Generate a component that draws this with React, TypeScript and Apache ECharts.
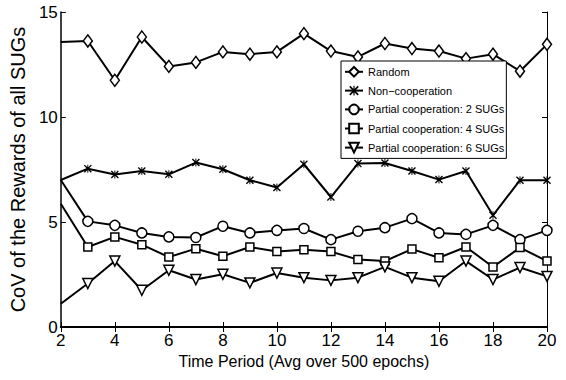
import React, { useEffect, useRef } from "react";
import * as echarts from "echarts";

const periods = [2, 3, 4, 5, 6, 7, 8, 9, 10, 11, 12, 13, 14, 15, 16, 17, 18, 19, 20];
const randomVals = [13.57, 13.62, 11.75, 13.81, 12.41, 12.6, 13.1, 12.99, 13.1, 13.97, 13.14, 12.86, 13.5, 13.26, 13.14, 12.78, 12.99, 12.18, 13.46];
const nonCoopVals = [7.0, 7.54, 7.26, 7.43, 7.27, 7.83, 7.51, 6.99, 6.64, 7.75, 6.19, 7.78, 7.81, 7.43, 7.02, 7.43, 5.32, 6.99, 6.99];
const coop2Vals = [7.0, 5.03, 4.84, 4.48, 4.29, 4.26, 4.8, 4.48, 4.6, 4.69, 4.16, 4.56, 4.73, 5.16, 4.48, 4.41, 4.84, 4.16, 4.6];
const coop4Vals = [5.87, 3.81, 4.29, 3.92, 3.33, 3.73, 3.37, 3.81, 3.6, 3.68, 3.59, 3.21, 3.14, 3.71, 3.3, 3.81, 2.86, 3.78, 3.14];
const coop6Vals = [1.11, 2.07, 3.14, 1.75, 2.7, 2.26, 2.51, 2.1, 2.57, 2.35, 2.22, 2.35, 2.86, 2.35, 2.18, 3.14, 2.26, 2.83, 2.41];
const seriesNames = [
  "Random",
  "Non\u2212cooperation",
  "Partial cooperation: 2 SUGs",
  "Partial cooperation: 4 SUGs",
  "Partial cooperation: 6 SUGs",
];
const xTicks = { min: 2, max: 20, interval: 2 };
const yTicks = { min: 0, max: 15, interval: 5 };

const SYM_DIAMOND = "path://M5,0 L10,7 L5,14 L0,7 Z";
const SYM_CROSS =
  "path://M0,1.2 L1.2,0 L10,8.8 L8.8,10 Z M8.8,0 L10,1.2 L1.2,10 L0,8.8 Z M4.4,0 L5.6,0 L5.6,10 L4.4,10 Z";
const SYM_CIRCLE = "circle";
const SYM_SQUARE = "path://M0,0 L10,0 L10,10 L0,10 Z";
const SYM_TRI = "path://M0,0 L10,0 L5,9 Z";

const SANS = "'Liberation Sans', Arial, Helvetica, sans-serif";

export default function App() {
  const ref = useRef<HTMLDivElement>(null);
  useEffect(() => {
    if (!ref.current) return;
    const chart = echarts.init(ref.current, undefined, { renderer: "svg" });
    const mk = (
      name: string,
      vals: number[],
      symbol: string,
      size: number | number[],
      filled: boolean
    ) => ({
      name,
      type: "line",
      data: vals.map((v, i) =>
        i === 0 ? { value: [periods[i], v], symbol: "none" } : { value: [periods[i], v] }
      ),
      symbol,
      symbolSize: size,
      showAllSymbol: true,
      lineStyle: { color: "#000", width: 2 },
      itemStyle: filled
        ? { color: "#000", borderWidth: 0 }
        : { color: "#fff", borderColor: "#000", borderWidth: 1.5 },
      emphasis: { disabled: true },
      z: 2,
    });
    const axisLabelFont = { fontFamily: SANS, fontSize: 17, color: "#000" };
    chart.setOption({
      animation: false,
      backgroundColor: "#fff",
      grid: { left: 53, right: 19, top: 12, bottom: 53, containLabel: false },
      legend: {
        orient: "vertical",
        left: 341,
        top: 61,
        padding: [5, 2, 5, 3],
        itemGap: 7.5,
        itemWidth: 18,
        itemHeight: 12,
        borderColor: "#000",
        borderWidth: 1,
        borderRadius: 0,
        backgroundColor: "#fff",
        textStyle: { fontFamily: SANS, fontSize: 11, color: "#000" },
        data: seriesNames,
        z: 10,
      },
      xAxis: [
        {
          type: "value",
          ...xTicks,
          name: "Time Period (Avg over 500 epochs)",
          nameLocation: "middle",
          nameGap: 26,
          nameTextStyle: { fontFamily: SANS, fontSize: 16, color: "#000" },
          axisLine: { show: true, lineStyle: { color: "#000", width: 2 } },
          axisTick: { show: true, inside: true, length: 5, lineStyle: { color: "#000" } },
          axisLabel: { ...axisLabelFont, margin: 5 },
          splitLine: { show: false },
        },
        {
          type: "value",
          position: "top",
          ...xTicks,
          axisLine: { show: true, lineStyle: { color: "#000", width: 1 } },
          axisTick: { show: true, inside: true, length: 5, lineStyle: { color: "#000" } },
          axisLabel: { show: false },
          splitLine: { show: false },
        },
      ],
      yAxis: [
        {
          type: "value",
          ...yTicks,
          name: "CoV of the Rewards of all SUGs",
          nameLocation: "middle",
          nameGap: 29,
          nameTextStyle: { fontFamily: SANS, fontSize: 20, color: "#000" },
          axisLine: { show: true, lineStyle: { color: "#000", width: 1.5 } },
          axisTick: { show: true, inside: true, length: 5, lineStyle: { color: "#000" } },
          axisLabel: { ...axisLabelFont, margin: 3 },
          splitLine: { show: false },
        },
        {
          type: "value",
          position: "right",
          ...yTicks,
          axisLine: { show: true, lineStyle: { color: "#000", width: 1 } },
          axisTick: { show: true, inside: true, length: 5, lineStyle: { color: "#000" } },
          axisLabel: { show: false },
          splitLine: { show: false },
        },
      ],
      series: [
        mk(seriesNames[0], randomVals, SYM_DIAMOND, [9, 12], false),
        mk(seriesNames[1], nonCoopVals, SYM_CROSS, 8, true),
        mk(seriesNames[2], coop2Vals, SYM_CIRCLE, 10, false),
        mk(seriesNames[3], coop4Vals, SYM_SQUARE, 8, false),
        mk(seriesNames[4], coop6Vals, SYM_TRI, 10, false),
      ],
    });
    return () => chart.dispose();
  }, []);
  return (
    <div
      ref={ref}
      style={{ position: "absolute", left: 0, top: 0, width: 566, height: 380 }}
    />
  );
}
